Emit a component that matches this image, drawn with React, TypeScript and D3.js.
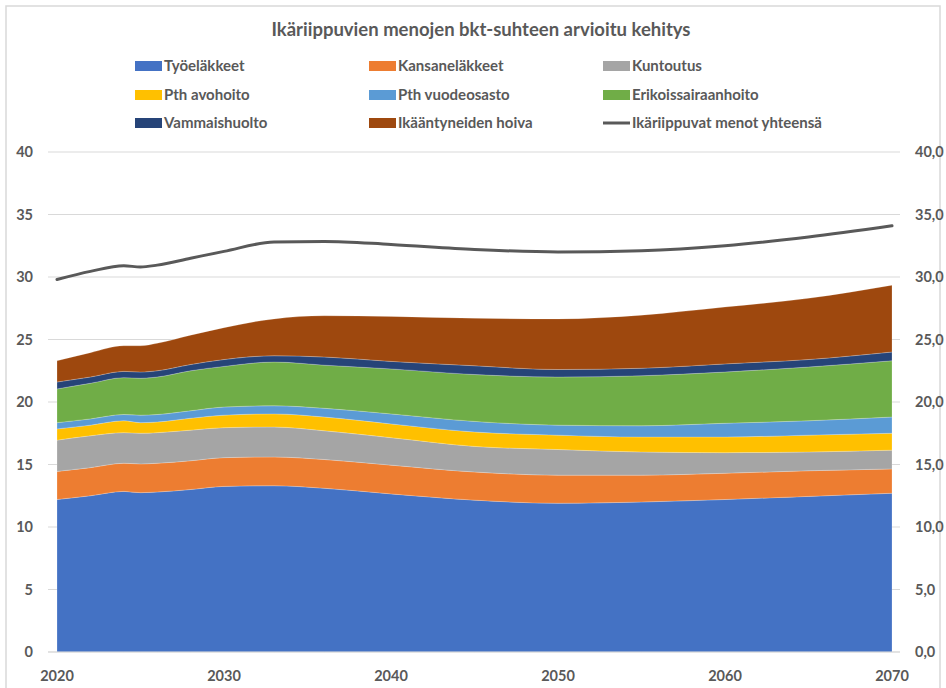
import React from "react";
import * as d3 from "d3";

const years = [2020, 2022, 2024, 2025, 2026, 2028, 2030, 2033, 2036, 2040, 2045, 2050, 2055, 2060, 2065, 2070];

const seriesNames = [
  "Työeläkkeet",
  "Kansaneläkkeet",
  "Kuntoutus",
  "Pth avohoito",
  "Pth vuodeosasto",
  "Erikoissairaanhoito",
  "Vammaishuolto",
  "Ikääntyneiden hoiva",
];
const lineName = "Ikäriippuvat menot yhteensä";

const tyoelakkeet = [12.2, 12.5, 12.85, 12.75, 12.8, 13.0, 13.25, 13.3, 13.1, 12.65, 12.15, 11.9, 12.0, 12.2, 12.45, 12.7];
const kansanelakkeet = [2.25, 2.25, 2.25, 2.3, 2.3, 2.3, 2.3, 2.3, 2.3, 2.3, 2.25, 2.25, 2.15, 2.1, 2.05, 1.95];
const kuntoutus = [2.5, 2.55, 2.45, 2.45, 2.45, 2.45, 2.4, 2.4, 2.3, 2.2, 2.05, 2.05, 1.85, 1.65, 1.5, 1.5];
const pthAvohoito = [0.9, 0.85, 0.95, 0.85, 0.85, 0.95, 1.0, 1.05, 1.1, 1.1, 1.15, 1.15, 1.2, 1.25, 1.35, 1.35];
const pthVuodeosasto = [0.5, 0.5, 0.5, 0.6, 0.6, 0.6, 0.65, 0.65, 0.7, 0.8, 0.85, 0.8, 0.9, 1.1, 1.15, 1.3];
const erikoissairaanhoito = [2.7, 2.85, 2.95, 2.95, 3.0, 3.2, 3.25, 3.5, 3.45, 3.6, 3.75, 3.85, 4.0, 4.1, 4.3, 4.5];
const vammaishuolto = [0.55, 0.5, 0.5, 0.5, 0.5, 0.5, 0.55, 0.5, 0.65, 0.6, 0.7, 0.6, 0.6, 0.65, 0.6, 0.7];
const ikaantyneidenHoiva = [1.7, 1.95, 2.05, 2.1, 2.2, 2.35, 2.55, 2.95, 3.3, 3.6, 3.8, 4.05, 4.25, 4.55, 4.9, 5.35];
const yhteensa = [29.8, 30.45, 30.9, 30.8, 30.95, 31.5, 32.05, 32.8, 32.85, 32.6, 32.2, 32.0, 32.1, 32.5, 33.2, 34.1];

const yTicks = [0, 5, 10, 15, 20, 25, 30, 35, 40];
const xTicks = [2020, 2030, 2040, 2050, 2060, 2070];
const title = "Ikäriippuvien menojen bkt-suhteen arvioitu kehitys";

const colors = ["#4472C4", "#ED7D31", "#A5A5A5", "#FFC000", "#5B9BD5", "#70AD47", "#264478", "#9E480E"];
const lineColor = "#595959";

const FONT = "Lato, 'Open Sans', sans-serif";
const TXT = "#595959";

export default function App() {
  const seriesArrays = [tyoelakkeet, kansanelakkeet, kuntoutus, pthAvohoito, pthVuodeosasto, erikoissairaanhoito, vammaishuolto, ikaantyneidenHoiva];
  const rows = years.map((yr, i) => {
    const r: any = { year: yr };
    seriesNames.forEach((n, k) => (r[n] = seriesArrays[k][i]));
    return r;
  });
  const x = d3.scaleLinear().domain([2020, 2070]).range([57, 892]);
  const y = d3.scaleLinear().domain([0, 40]).range([652, 152]);
  const stack = d3.stack<any>().keys(seriesNames);
  const stacked = stack(rows);
  const area = d3
    .area<any>()
    .x((d) => x(d.data.year))
    .y0((d) => y(d[0]))
    .y1((d) => y(d[1]))
    .curve(d3.curveMonotoneX);
  const line = d3
    .line<number>()
    .x((_, i) => x(years[i]))
    .y((d) => y(d))
    .curve(d3.curveMonotoneX);

  const legendItems = [...seriesNames, lineName];
  const colX = [135, 369, 603];
  const rowY = [66, 95, 123];

  return (
    <svg width={946} height={688} style={{ position: "absolute", left: 0, top: 0 }} fontFamily={FONT}>
      <rect x={0} y={0} width={946} height={688} fill="#fff" />
      <rect x={6} y={6} width={934} height={690} fill="none" stroke="#d9d9d9" strokeWidth={1.5} />
      <text x={481} y={36} textAnchor="middle" fontSize={18.5} fontWeight={700} fill={TXT}>
        {title}
      </text>
      {legendItems.map((name, i) => {
        const cx = colX[i % 3];
        const cy = rowY[Math.floor(i / 3)];
        const isLine = i === 8;
        return (
          <g key={name}>
            {isLine ? (
              <line x1={cx} x2={cx + 27} y1={cy} y2={cy} stroke={lineColor} strokeWidth={3} />
            ) : (
              <rect x={cx} y={cy - 5} width={27} height={10} fill={colors[i]} />
            )}
            <text x={cx + 29} y={cy} dy="0.35em" fontSize={15} fontWeight={700} fill={TXT}>
              {name}
            </text>
          </g>
        );
      })}
      {yTicks.map((t) => (
        <g key={t}>
          <line x1={48} x2={900} y1={y(t)} y2={y(t)} stroke="#d9d9d9" strokeWidth={1} />
          <text x={33} y={y(t)} dy="0.35em" textAnchor="end" fontSize={14.5} fontWeight={700} fill={TXT}>
            {t}
          </text>
          <text x={915} y={y(t)} dy="0.35em" textAnchor="start" fontSize={14.5} fontWeight={700} fill={TXT}>
            {t.toFixed(1).replace(".", ",")}
          </text>
        </g>
      ))}
      {stacked.map((s, i) => (
        <path key={s.key} d={area(s as any) || ""} fill={colors[i]} stroke="#ffffff" strokeOpacity={0.35} strokeWidth={0.6} />
      ))}
      <line x1={48} x2={900} y1={y(0)} y2={y(0)} stroke="#d9d9d9" strokeWidth={1} />
      <path d={line(yhteensa) || ""} fill="none" stroke={lineColor} strokeWidth={3} strokeLinecap="round" strokeLinejoin="round" />
      {xTicks.map((t) => (
        <text key={t} x={x(t)} y={676} dy="0.35em" textAnchor="middle" fontSize={14.5} fontWeight={700} fill={TXT}>
          {t}
        </text>
      ))}
    </svg>
  );
}
